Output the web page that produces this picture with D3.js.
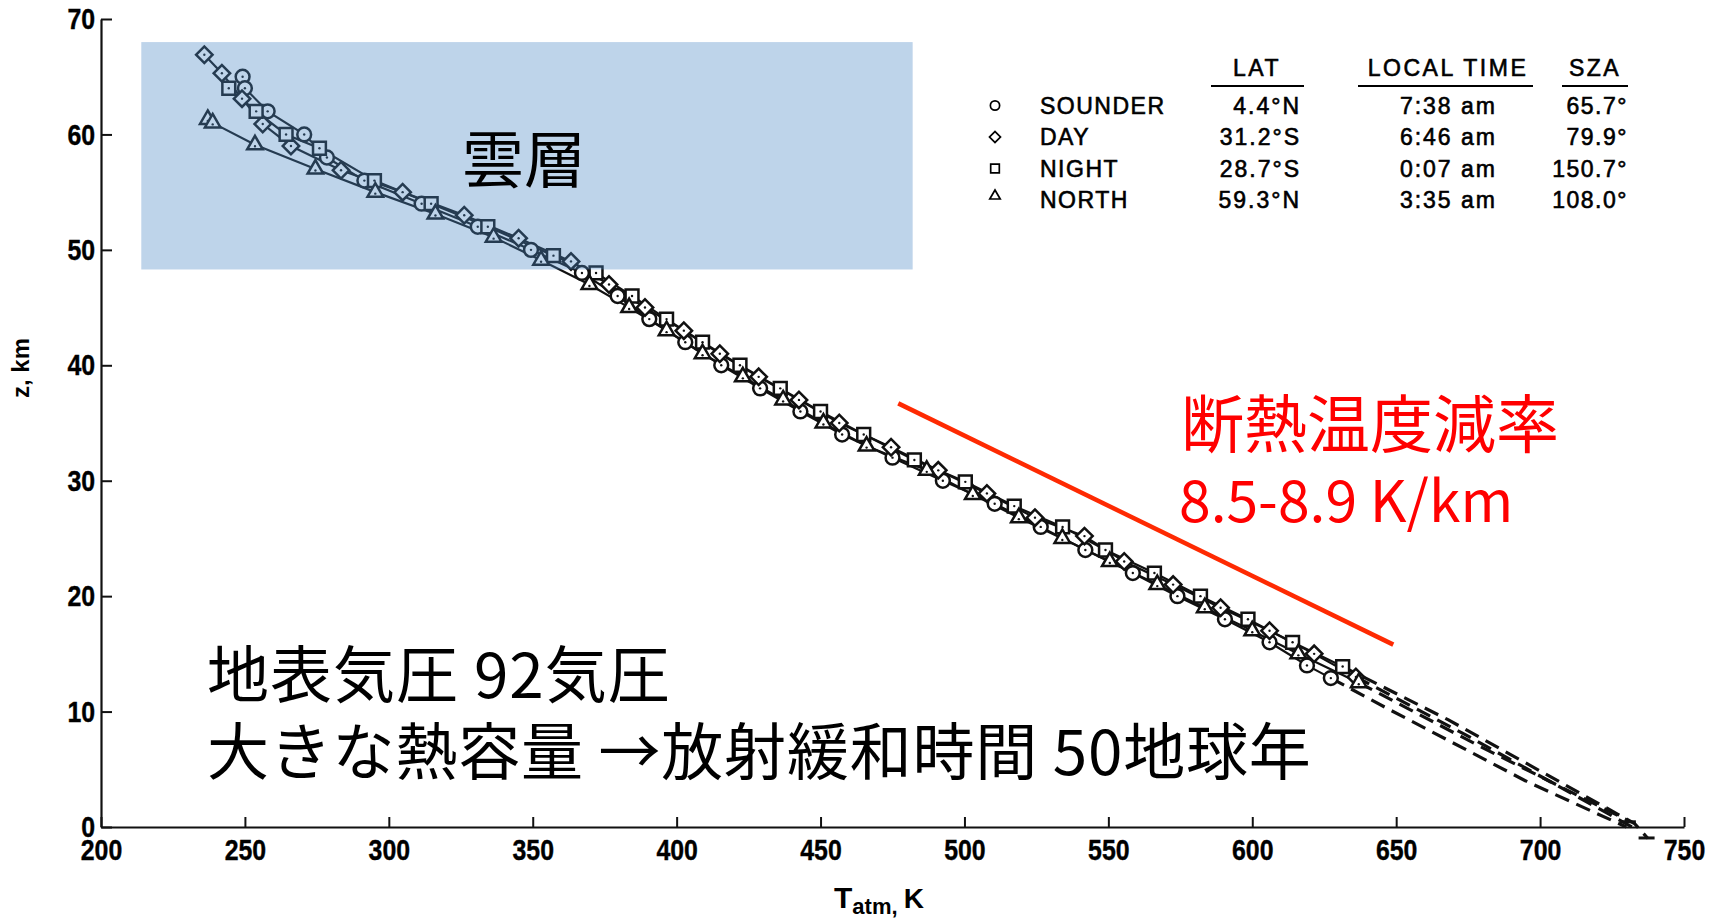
<!DOCTYPE html>
<html>
<head>
<meta charset="utf-8">
<script src="https://cdn.jsdelivr.net/npm/d3@7"></script>
<style>
  html, body { margin: 0; padding: 0; background: #fff; }
  svg { display: block; }
</style>
</head>
<body>
<svg id="chart" width="1722" height="919"></svg>
<script>
// ---------------- data ----------------
const xTicks = [200, 250, 300, 350, 400, 450, 500, 550, 600, 650, 700, 750];
const yTicks = [0, 10, 20, 30, 40, 50, 60, 70];

// Temperature profiles: altitude z (km) and temperature T (K)
const sounderZ = [65, 64, 62, 60, 58, 56, 54, 52, 50, 48, 46, 44, 42, 40, 38, 36, 34, 32, 30, 28, 26, 24, 22, 20, 18, 16, 14, 12.9];
const sounderT = [249.2, 250.0, 257.9, 270.6, 278.5, 291.5, 311.4, 330.9, 349.4, 367.1, 379.5, 390.5, 403, 415.5, 429, 443, 457.5, 475, 492.5, 510.5, 526.5, 542, 558.5, 574, 590.5, 606, 619, 627.3];

const dayZ = [66.9, 65.3, 63.1, 60.9, 59.0, 56.9, 55.0, 53.0, 51.0, 49.0, 47, 45, 43, 41, 39, 37, 35, 32.9, 30.9, 28.9, 26.8, 25.2, 23, 21, 19, 17, 15, 13];
const dayT = [235.9, 242.0, 249.0, 256.2, 266.0, 283.4, 304.8, 326.2, 345.1, 363.3, 376.5, 389, 402.5, 415, 428.5, 442.5, 456.5, 474.5, 490.9, 507.8, 524.5, 541.7, 555.5, 572.5, 589, 606, 621.5, 636];

const nightZ = [64, 62, 60, 58.8, 56, 54, 52, 49.5, 48, 46, 44, 42, 40, 38, 36, 34, 31.8, 29.9, 27.8, 26.0, 24, 22, 20, 18, 16, 13.9];
const nightT = [244.4, 253.9, 264.3, 275.9, 295.0, 314.7, 334.4, 357.2, 372, 384.5, 396.5, 409, 422, 436, 450, 465, 482.6, 500.3, 517.3, 534.1, 549, 566, 582, 598.5, 614, 631.4];

const northZ = [61.3, 61.0, 59.1, 57.0, 55.0, 53.1, 51.1, 49.1, 47.0, 45, 43, 41, 39, 37, 35, 33, 30.9, 28.8, 26.8, 25, 23, 21, 19, 17, 15, 12.5];
const northT = [237.1, 238.8, 253.5, 274.5, 295.3, 316.2, 336.4, 352.9, 369.7, 383.5, 396.5, 409, 423, 437, 451, 466, 486.9, 502.9, 518.9, 534, 550.5, 567, 583.5, 600, 616, 637];

// Dashed extrapolations down to the surface
const sounderExtZ = [12.9, 10.1, 3.9, 0];
const sounderExtT = [627.3, 648.2, 695.7, 730];
const dayExtZ = [13, 8, 0];
const dayExtT = [636, 674, 732];
const nightExtZ = [13.9, 9.3, 0.3, -1.0];
const nightExtT = [631.4, 668, 732.8, 737.5];
const northExtZ = [12.5, 7, 0.5];
const northExtT = [637, 679, 731];

// Surface temperature bars
const surfaceZ = [0.45, -0.95];
const surfaceT = [730.5, 737];

// Adiabatic lapse-rate guide (T, z endpoints)
const lapseT = [477, 649];
const lapseZ = [36.7, 15.8];

// Cloud layer band
const cloudT = [214, 482];
const cloudZ = [48.3, 68.0];

// Legend table
const legendNames = ["SOUNDER", "DAY", "NIGHT", "NORTH"];
const legendShapes = ["circle", "diamond", "square", "triangle"];
const legendLat = ["4.4°N", "31.2°S", "28.7°S", "59.3°N"];
const legendTime = ["7:38 am", "6:46 am", "0:07 am", "3:35 am"];
const legendSza = ["65.7°", "79.9°", "150.7°", "108.0°"];
const legendHeaders = ["LAT", "LOCAL TIME", "SZA"];

// ---------------- drawing ----------------
const svg = d3.select("#chart");
const W = 1722, H = 919;
svg.append("rect").attr("width", W).attr("height", H).attr("fill", "#fff");

const x = d3.scaleLinear().domain([200, 750]).range([101, 1684]);
const y = d3.scaleLinear().domain([0, 70]).range([827, 19]);

const INK = "#111";
const axisFont = "'Liberation Sans', Arial, Helvetica, sans-serif";
const cjkFont = "'Noto Sans CJK JP', 'Noto Sans CJK SC', sans-serif";

// axes
const gx = svg.append("g")
  .attr("transform", `translate(0,${y(0)})`)
  .call(d3.axisBottom(x).tickValues(xTicks).tickSize(-10).tickSizeOuter(0).tickPadding(12).tickFormat(d3.format("d")));
const gy = svg.append("g")
  .attr("transform", `translate(${x(200)},0)`)
  .call(d3.axisLeft(y).tickValues(yTicks).tickSize(-11).tickSizeOuter(0).tickPadding(7).tickFormat(d3.format("d")));

[gx, gy].forEach(g => {
  g.select(".domain").attr("stroke", INK).attr("stroke-width", 2.2);
  g.selectAll(".tick line").attr("stroke", INK).attr("stroke-width", 2);
  g.selectAll(".tick text")
    .attr("fill", "#000")
    .attr("stroke", "#000").attr("stroke-width", 0.4)
    .attr("font-family", axisFont)
    .attr("font-weight", "bold")
    .attr("font-size", 30)
    .attr("transform", "scale(0.83,1)");
});

// axis titles
svg.append("text")
  .attr("transform", "translate(29,368) rotate(-90)")
  .attr("text-anchor", "middle")
  .attr("font-family", axisFont)
  .attr("font-weight", "bold")
  .attr("font-size", 24)
  .attr("fill", "#000")
  .text("z, km");

const xt = svg.append("text")
  .attr("x", 834).attr("y", 908)
  .attr("font-family", axisFont)
  .attr("font-weight", "bold")
  .attr("fill", "#000");
xt.append("tspan").attr("font-size", 30).text("T");
xt.append("tspan").attr("font-size", 22).attr("dy", 6).text("atm, ");
xt.append("tspan").attr("font-size", 28).attr("dy", -6).text("K");

// profile lines and dashed extrapolations
const line = d3.line().x(d => x(d[0])).y(d => y(d[1]));
const zip = (T, Z) => T.map((t, i) => [t, Z[i]]);

const series = [
  { shape: "circle",   pts: zip(sounderT, sounderZ), ext: zip(sounderExtT, sounderExtZ) },
  { shape: "diamond",  pts: zip(dayT, dayZ),         ext: zip(dayExtT, dayExtZ) },
  { shape: "square",   pts: zip(nightT, nightZ),     ext: zip(nightExtT, nightExtZ) },
  { shape: "triangle", pts: zip(northT, northZ),     ext: zip(northExtT, northExtZ) }
];

const gData = svg.append("g");
series.forEach(s => {
  gData.append("path").attr("d", line(s.ext))
    .attr("fill", "none").attr("stroke", INK).attr("stroke-width", 3.2)
    .attr("stroke-dasharray", "15,8");
});
series.forEach(s => {
  gData.append("path").attr("d", line(s.pts))
    .attr("fill", "none").attr("stroke", INK).attr("stroke-width", 2.2);
});

// surface bars
gData.selectAll(".sbar").data(zip(surfaceT, surfaceZ)).join("line")
  .attr("x1", d => x(d[0]) - 8).attr("x2", d => x(d[0]) + 8)
  .attr("y1", d => y(d[1])).attr("y2", d => y(d[1]))
  .attr("stroke", INK).attr("stroke-width", 3);

function symbolPath(shape, scale) {
  const k = scale || 1;
  if (shape === "circle") return d3.symbol().type(d3.symbolCircle).size(150 * k)();
  if (shape === "square") return d3.symbol().type(d3.symbolSquare).size(165 * k)();
  if (shape === "diamond") return d3.symbol().type(d3.symbolSquare).size(135 * k)();
  return d3.symbol().type(d3.symbolTriangle).size(105 * k)();
}

series.forEach(s => {
  const g = gData.append("g");
  g.selectAll("path").data(s.pts).join("path")
    .attr("d", symbolPath(s.shape))
    .attr("transform", d => `translate(${x(d[0])},${y(d[1])})` + (s.shape === "diamond" ? " rotate(45)" : ""))
    .attr("fill", "#fff").attr("stroke", INK).attr("stroke-width", 2.5);
  g.selectAll("circle").data(s.pts).join("circle")
    .attr("cx", d => x(d[0])).attr("cy", d => y(d[1]) + (s.shape === "triangle" ? 1.5 : 0))
    .attr("r", 1.2).attr("fill", INK);
});

// cloud layer band (translucent overlay)
svg.append("rect")
  .attr("x", x(cloudT[0])).attr("y", y(cloudZ[1]))
  .attr("width", x(cloudT[1]) - x(cloudT[0]))
  .attr("height", y(cloudZ[0]) - y(cloudZ[1]))
  .attr("fill", "rgb(74,136,197)").attr("fill-opacity", 0.36);

svg.append("text")
  .attr("x", 462).attr("y", 183)
  .attr("font-family", cjkFont).attr("font-size", 62).attr("fill", "#000")
  .text("雲層");

// lapse-rate guide
svg.append("line")
  .attr("x1", x(lapseT[0])).attr("y1", y(lapseZ[0]))
  .attr("x2", x(lapseT[1])).attr("y2", y(lapseZ[1]))
  .attr("stroke", "#fe2a02").attr("stroke-width", 4.5);

svg.append("text")
  .attr("x", 1181).attr("y", 447)
  .attr("font-family", cjkFont).attr("font-size", 63).attr("fill", "#ff0000")
  .text("断熱温度減率");
svg.append("text")
  .attr("x", 1179).attr("y", 522)
  .attr("font-family", cjkFont).attr("font-size", 57).attr("fill", "#ff0000")
  .text("8.5-8.9 K/km");

// notes
svg.append("text")
  .attr("x", 207).attr("y", 698)
  .attr("font-family", cjkFont).attr("font-size", 62).attr("letter-spacing", 1)
  .attr("fill", "#000")
  .text("地表気圧 92気圧");
svg.append("text")
  .attr("x", 207).attr("y", 775)
  .attr("font-family", cjkFont).attr("font-size", 62).attr("letter-spacing", 0.8)
  .attr("fill", "#000")
  .text("大きな熱容量 →放射緩和時間 50地球年");

// legend table
const lg = svg.append("g")
  .attr("font-family", axisFont).attr("font-size", 23).attr("fill", "#000")
  .attr("stroke", "#000").attr("stroke-width", 0.6);

const headerX = [1257, 1448, 1595];
const ruleX = [[1211, 1304], [1358, 1533], [1562, 1628]];
legendHeaders.forEach((h, i) => {
  lg.append("text").attr("x", headerX[i]).attr("y", 76)
    .attr("text-anchor", "middle").attr("letter-spacing", 2.5).text(h);
  lg.append("line").attr("x1", ruleX[i][0]).attr("x2", ruleX[i][1])
    .attr("y1", 86).attr("y2", 86).attr("stroke-width", 2);
});

const rowY = [113.5, 145, 176.5, 208];
legendNames.forEach((n, i) => {
  const by = rowY[i];
  const sy = legendShapes[i] === "triangle" ? by - 12 : by - 8;
  lg.append("path")
    .attr("d", symbolPath(legendShapes[i], 0.45))
    .attr("transform", `translate(995,${sy})` + (legendShapes[i] === "diamond" ? " rotate(45)" : ""))
    .attr("fill", "#fff").attr("stroke", "#000").attr("stroke-width", 1.7);
  lg.append("text").attr("x", 1040).attr("y", by).attr("letter-spacing", 1.5).text(n);
  lg.append("text").attr("x", 1301).attr("y", by).attr("text-anchor", "end").attr("letter-spacing", 2).text(legendLat[i]);
  lg.append("text").attr("x", 1497).attr("y", by).attr("text-anchor", "end").attr("letter-spacing", 2).text(legendTime[i]);
  lg.append("text").attr("x", 1628).attr("y", by).attr("text-anchor", "end").attr("letter-spacing", 1.5).text(legendSza[i]);
});
</script>
</body>
</html>
